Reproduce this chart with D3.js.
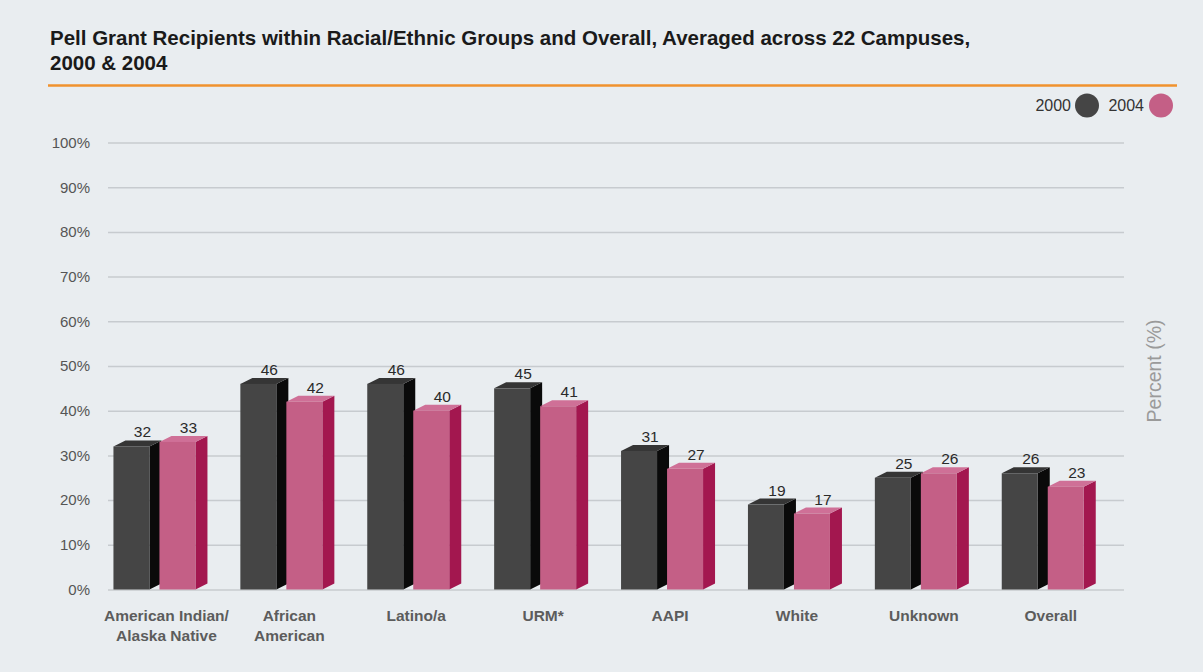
<!DOCTYPE html>
<html><head><meta charset="utf-8">
<script src="https://cdn.jsdelivr.net/npm/d3@7"></script>
<style>
html,body{margin:0;padding:0;background:#e9edf0;}
svg{display:block;font-family:"Liberation Sans",Arial,sans-serif;}
</style></head>
<body><svg id="c" width="1203" height="672"></svg>
<script>
const categories = ["American Indian/\nAlaska Native","African\nAmerican","Latino/a","URM*","AAPI","White","Unknown","Overall"];
const series = ["2000","2004"];
const values2000 = [32,46,46,45,31,19,25,26];
const values2004 = [33,42,40,41,27,17,26,23];
const yTicks = [0,10,20,30,40,50,60,70,80,90,100];
const titleLines = ["Pell Grant Recipients within Racial/Ethnic Groups and Overall, Averaged across 22 Campuses,","2000 & 2004"];
const yLabel = "Percent (%)";

const colors = {
  "2000": {front:"#454545", side:"#0a0a0a", top:"#353535"},
  "2004": {front:"#c45f86", side:"#a3174f", top:"#cf7097"}
};

const svg = d3.select("#c");
svg.append("rect").attr("width",1203).attr("height",672).attr("fill","#e9edf0");

// Title
const t = svg.append("text").attr("font-size",20.5).attr("font-weight","bold").attr("fill","#1a1a1a");
titleLines.forEach((l,i)=>t.append("tspan").attr("x",50).attr("y",44.5+i*25.5).text(l));
svg.append("line").attr("x1",48).attr("x2",1177).attr("y1",85.5).attr("y2",85.5).attr("stroke","#f0922e").attr("stroke-width",2.5);

// Legend
const leg = [{s:"2000",tx:1071,cx:1087},{s:"2004",tx:1144,cx:1161}];
leg.forEach(d=>{
  svg.append("text").attr("x",d.tx).attr("y",111).attr("text-anchor","end").attr("font-size",16).attr("fill","#333").text(d.s);
  svg.append("circle").attr("cx",d.cx).attr("cy",105.5).attr("r",12).attr("fill",colors[d.s].front);
});

const y = d3.scaleLinear().domain([0,100]).range([589.5,142.5]);
const x = d3.scaleBand().domain(categories).range([91,1106.2]).padding(0);
const xs = d3.scaleBand().domain(series).range([0,92]);
const barW = 36, dx = 12, dy = 6;

// Grid / axis
const axis = d3.axisLeft(y).tickValues(yTicks).tickFormat(d=>d+"%").tickSizeInner(-(1124-108)).tickSizeOuter(0).tickPadding(18);
const ag = svg.append("g").attr("transform","translate(108,0)").call(axis);
ag.select(".domain").remove();
ag.selectAll(".tick line").attr("stroke","#c7cbcf").attr("stroke-width",1.5);
ag.selectAll(".tick text").attr("font-size",15).attr("fill","#555").attr("font-family","'Liberation Sans',Arial,sans-serif");

// Y label
svg.append("text").attr("transform","translate(1161,371) rotate(-90)").attr("text-anchor","middle")
  .attr("font-size",19.5).attr("fill","#9a9a9a").text(yLabel);

// Bars
const data = [];
categories.forEach((c,i)=>{
  data.push({c, s:"2000", v:values2000[i]});
  data.push({c, s:"2004", v:values2004[i]});
});
const base = y(0);
const g = svg.append("g");
data.forEach(d=>{
  const c = x(d.c) + x.bandwidth()/2;
  const x0 = c - 41 + xs(d.s);
  const yt = y(d.v);
  const col = colors[d.s];
  const bg = g.append("g");
  bg.append("polygon").attr("points",[[x0+barW,yt],[x0+barW+dx,yt-dy],[x0+barW+dx,base-dy],[x0+barW,base]].map(p=>p.join(",")).join(" ")).attr("fill",col.side);
  bg.append("polygon").attr("points",[[x0,yt],[x0+barW,yt],[x0+barW+dx,yt-dy],[x0+dx,yt-dy]].map(p=>p.join(",")).join(" ")).attr("fill",col.top);
  bg.append("rect").attr("x",x0).attr("y",yt).attr("width",barW).attr("height",base-yt).attr("fill",col.front);
  bg.append("text").attr("x",x0+barW/2+11).attr("y",yt-9).attr("text-anchor","middle").attr("font-size",15.5).attr("fill","#2a2a2a").text(d.v);
});

// Category labels
categories.forEach((c,i)=>{
  const cx = x(c) + x.bandwidth()/2 + (i===0 ? 12 : 8);
  const tt = svg.append("text").attr("text-anchor","middle").attr("font-size",15.5).attr("font-weight","bold").attr("fill","#5c5c5c");
  c.split("\n").forEach((l,j)=>tt.append("tspan").attr("x",cx).attr("y",621+j*20).text(l));
});
</script>
</body></html>
